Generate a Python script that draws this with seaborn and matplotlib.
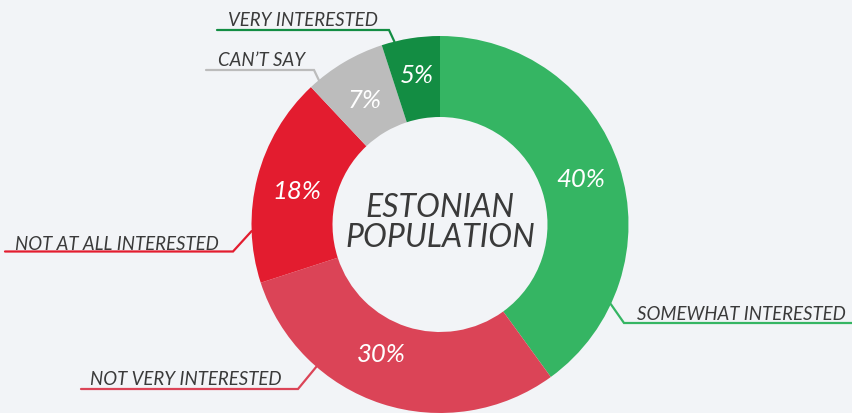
import matplotlib.pyplot as plt
import numpy as np
import seaborn as sns

# datos de la encuesta
categorias = ["SOMEWHAT INTERESTED", "NOT VERY INTERESTED", "NOT AT ALL INTERESTED",
              "CAN’T SAY", "VERY INTERESTED"]
porcentajes = [40, 30, 18, 7, 5]
titulo_centro = "ESTONIAN\nPOPULATION"

colores = sns.color_palette(["#35b563", "#db4457", "#e31c2f", "#bcbcbc", "#138d43"])

# posición de las etiquetas (píxeles, y desde arriba)
angulo_linea = [-25, 229, 182, 130, 104]
codo = [(624, 324), (298, 390), (233, 252.5), (314, 71), (389, 31)]
fin_linea = [852, 81, 5, 206, 217]
pos_texto = [(637, 320), (90, 385), (15, 250), (218, 66), (228, 26)]
desplaza_pct = [(0, 0), (-13, 12), (0, -3), (0, -2), (0, 4)]

sns.set_theme(style="white")
plt.rcParams['font.family'] = ['Lato', 'DejaVu Sans']

W, H = 852, 414
fondo = '#f2f4f7'
fig = plt.figure(figsize=(W / 100, H / 100), dpi=100)
fig.patch.set_facecolor(fondo)
ax = fig.add_axes([0, 0, 1, 1])
ax.set_facecolor(fondo)

cx, cy = 440, H - 225.5
R = 188.5
grosor = 81

wedges, _, textos_pct = ax.pie(
    porcentajes, colors=colores, startangle=90, counterclock=False,
    center=(cx, cy), radius=R,
    autopct=lambda p: f"{p:.0f}%", pctdistance=(R - grosor / 2) / R,
    wedgeprops=dict(width=grosor, linewidth=0),
    textprops=dict(color='white', fontsize=18.5, fontstyle='italic'),
)
for t, (dx, dy) in zip(textos_pct, desplaza_pct):
    x, y = t.get_position()
    t.set_position((x + dx, y + dy))

# líneas guía y etiquetas
for i, cat in enumerate(categorias):
    a = np.deg2rad(angulo_linea[i])
    px, py = cx + R * np.cos(a), cy + R * np.sin(a)
    ex, ey = codo[i][0], H - codo[i][1]
    ax.plot([px, ex, fin_linea[i]], [py, ey, ey], color=colores[i], lw=1.6,
            solid_joinstyle='miter', clip_on=False)
    tx, ty = pos_texto[i]
    ax.text(tx, H - ty, cat, fontsize=13.4, fontstyle='italic', fontweight='normal',
            color='#3a3a3a', ha='left', va='baseline')

ax.text(cx, H - 223, titulo_centro, fontsize=23, fontstyle='italic', fontweight='normal',
        color='#3a3a3a', ha='center', va='center', linespacing=1.0)

ax.set_xlim(0, W)
ax.set_ylim(0, H)
ax.set_aspect('auto')
ax.axis('off')

fig.savefig('out.png', dpi=100, facecolor=fondo)
